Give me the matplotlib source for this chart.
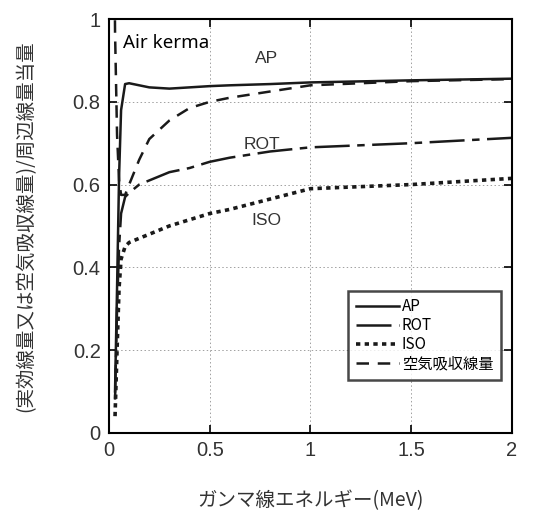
import numpy as np
import matplotlib
matplotlib.use("Agg")
import matplotlib.pyplot as plt

plt.rcParams['font.family'] = ['Liberation Sans', 'Noto Sans CJK JP', 'DejaVu Sans']

# -----------------------
# data
# -----------------------
energy = [0.02, 0.03, 0.04, 0.05, 0.06, 0.08, 0.1, 0.15, 0.2, 0.3, 0.4,
          0.5, 0.6, 0.8, 1.0, 1.5, 2.0]

ap = [np.nan, 0.10, 0.35, 0.62, 0.78, 0.843, 0.845, 0.840, 0.835, 0.832, 0.835,
      0.838, 0.840, 0.843, 0.847, 0.852, 0.856]
rot = [np.nan, 0.08, 0.30, 0.45, 0.53, 0.57, 0.58, 0.60, 0.61, 0.63, 0.64,
       0.655, 0.665, 0.68, 0.69, 0.70, 0.713]
iso = [np.nan, 0.04, 0.20, 0.35, 0.42, 0.45, 0.46, 0.47, 0.48, 0.50, 0.515,
       0.53, 0.54, 0.565, 0.59, 0.60, 0.615]
air = [1.60, 0.97, 0.72, 0.61, 0.575, 0.575, 0.60, 0.66, 0.71, 0.755, 0.785,
       0.80, 0.81, 0.825, 0.84, 0.85, 0.855]

series_labels = ['AP', 'ROT', 'ISO', '空気吸収線量']

# -----------------------
# plot
# -----------------------
fig = plt.figure(figsize=(5.45, 5.17), dpi=100)
ax = fig.add_axes([0.200, 0.163, 0.739, 0.800])

ax.plot(energy, ap, '-', color='#1a1a1a', lw=1.8, label=series_labels[0])
ax.plot(energy, rot, color='#1a1a1a', lw=1.8, linestyle=(0, (14, 3, 3, 3)),
        label=series_labels[1])
ax.plot(energy, iso, color='#1a1a1a', lw=2.6, linestyle=(0, (1.2, 1.2)),
        label=series_labels[2])
ax.plot(energy, air, color='#1a1a1a', lw=1.8, linestyle=(0, (5, 3.5)),
        label=series_labels[3])

ax.set_xlim(0, 2)
ax.set_ylim(0, 1)
ax.set_xticks([0, 0.5, 1, 1.5, 2])
ax.set_xticklabels(['0', '0.5', '1', '1.5', '2'])
ax.set_yticks([0, 0.2, 0.4, 0.6, 0.8, 1])
ax.set_yticklabels(['0', '0.2', '0.4', '0.6', '0.8', '1'])
ax.tick_params(direction='in', top=True, right=True, length=6, width=1.2,
               labelsize=14.5, labelcolor='#333333', pad=6)
for s in ax.spines.values():
    s.set_linewidth(1.5)
ax.grid(True, linestyle=(0, (1.5, 2.5)), color='#a0a0a0', lw=0.7)

# annotations
ax.text(0.07, 0.942, 'Air kerma', fontsize=13.5, family=['Noto Sans', 'DejaVu Sans'],
        va='center', ha='left')
ax.text(0.78, 0.906, 'AP', fontsize=12.5, color='#333333', ha='center', va='center')
ax.text(0.76, 0.697, 'ROT', fontsize=12.5, color='#333333', ha='center', va='center')
ax.text(0.78, 0.513, 'ISO', fontsize=12.5, color='#333333', ha='center', va='center')

leg = ax.legend(loc='lower left', bbox_to_anchor=(0.575, 0.11),
                frameon=True, fancybox=False, edgecolor='#1a1a1a',
                handlelength=2.8, handletextpad=0.2, labelspacing=0.12,
                borderpad=0.5, prop={'family': ['Noto Sans CJK JP'], 'size': 11})
leg.get_frame().set_linewidth(1.8)

ax.set_xlabel('ガンマ線エネルギー(MeV)', fontsize=14, color='#333333',
              family=['Noto Sans CJK JP'], labelpad=22)
ax.set_ylabel('(実効線量又は空気吸収線量)/周辺線量当量', fontsize=14,
              color='#333333', family=['Noto Sans CJK JP'], labelpad=26)

fig.savefig('out.png', dpi=100)
